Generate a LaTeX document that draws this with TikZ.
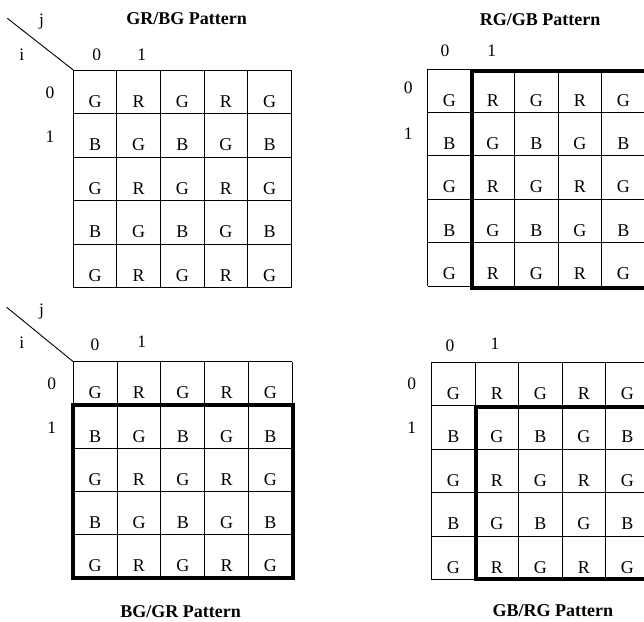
\documentclass[tikz,border=0pt]{standalone}
\usepackage{fontspec}
\setmainfont{Liberation Serif}
\begin{document}
\begin{tikzpicture}[x=1pt,y=-1pt,
  thinline/.style={draw=black,line width=0.9pt},
  thickline/.style={draw=black,line width=4pt},
  cellletter/.style={anchor=base,inner sep=0pt,font=\fontsize{18}{20}\selectfont},
  idxlabel/.style={anchor=base,inner sep=0pt,font=\fontsize{17.5}{20}\selectfont},
  titlelabel/.style={anchor=base,inner sep=0pt,font=\bfseries\fontsize{18}{20}\selectfont}]
\useasboundingbox (0,0) rectangle (644,621);
\clip (0,0) rectangle (644,621);
\fill[white] (0,0) rectangle (644,621);
\newcommand\bayergrid[5]{%
  \foreach \k in {0,...,5} {
    \draw[thinline] ({#2+\k*#4},#3) -- ({#2+\k*#4},{#3+5*#5});
    \draw[thinline] (#2,{#3+\k*#5}) -- ({#2+5*#4},{#3+\k*#5});
  }
  \foreach \row [count=\r from 0] in {{G,R,G,R,G},{B,G,B,G,B},{G,R,G,R,G},{B,G,B,G,B},{G,R,G,R,G}}
    \foreach \L [count=\c from 0] in \row
      \node[cellletter] (#1-\r-\c) at ({#2+(\c+0.5)*#4},{#3+\r*#5+37}) {\L};
}
% ---------- top left: GR/BG
\bayergrid{tl}{73.3}{70}{43.6}{43.5}
\node[titlelabel] (tltitle) at (186.7,24.5) {GR/BG Pattern};
\coordinate (tldiag) at (7.3,18.3);
\coordinate (tlcorner) at (73.3,70);
\draw[thinline] (tldiag) -- (tlcorner);
\node[idxlabel] (tlj) at (41.5,25) {j};
\node[idxlabel] (tli) at (21.7,60) {i};
\node[idxlabel] (tlc0) at (96.7,60) {0};
\node[idxlabel] (tlc1) at (141.7,60) {1};
\node[idxlabel] (tlr0) at (50,98.3) {0};
\node[idxlabel] (tlr1) at (50,142) {1};
% ---------- top right: RG/GB
\bayergrid{tr}{427.7}{69}{43.5}{43.4}
\node[titlelabel] (trtitle) at (540,25) {RG/GB Pattern};
\node[idxlabel] (trc0) at (445,56.7) {0};
\node[idxlabel] (trc1) at (491.7,56.7) {1};
\node[idxlabel] (trr0) at (408.3,93.3) {0};
\node[idxlabel] (trr1) at (408.3,139.3) {1};
\draw[thickline] (472.3,71) rectangle (660,288);
% ---------- bottom left: BG/GR
\bayergrid{bl}{73.3}{361.7}{43.8}{43.3}
\node[titlelabel] (bltitle) at (180.7,617.5) {BG/GR Pattern};
\coordinate (bldiag) at (6.7,307.3);
\coordinate (blcorner) at (73.3,361.7);
\draw[thinline] (bldiag) -- (blcorner);
\node[idxlabel] (blj) at (41.5,315) {j};
\node[idxlabel] (bli) at (21.7,348.3) {i};
\node[idxlabel] (blc0) at (95,350) {0};
\node[idxlabel] (blc1) at (141.7,347) {1};
\node[idxlabel] (blr0) at (51.7,389) {0};
\node[idxlabel] (blr1) at (51.7,433) {1};
\draw[thickline] (73.3,405.3) rectangle (292.5,577.7);
% ---------- bottom right: GB/RG
\bayergrid{br}{431.7}{362.3}{43.5}{43.5}
\node[titlelabel] (brtitle) at (552.8,616.7) {GB/RG Pattern};
\node[idxlabel] (brc0) at (450,351.7) {0};
\node[idxlabel] (brc1) at (495,349) {1};
\node[idxlabel] (brr0) at (411.7,389) {0};
\node[idxlabel] (brr1) at (411.7,433) {1};
\draw[thickline] (475.5,406.7) rectangle (660,579.3);
\end{tikzpicture}
\end{document}
